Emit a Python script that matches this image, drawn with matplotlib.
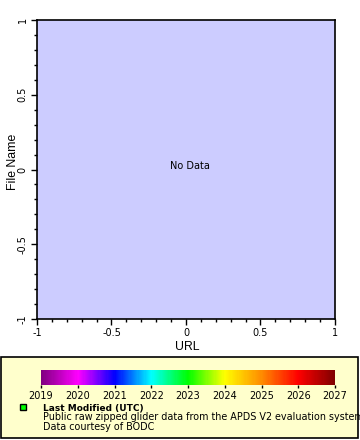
import matplotlib
matplotlib.use("Agg")
import matplotlib.pyplot as plt
import numpy as np
from matplotlib.colors import LinearSegmentedColormap, Normalize
from matplotlib.patches import Rectangle
from matplotlib.ticker import MultipleLocator
import matplotlib.colorbar as mcolorbar

x_label = "URL"
y_label = "File Name"
x_range = [-1, 1]
y_range = [-1, 1]
x_ticks = [-1, -0.5, 0, 0.5, 1]
x_tick_labels = ["-1", "-0.5", "0", "0.5", "1"]
y_ticks = [-1, -0.5, 0, 0.5, 1]
y_tick_labels = ["-1", "-0.5", "0", "0.5", "1"]
cbar_years = [2019, 2020, 2021, 2022, 2023, 2024, 2025, 2026, 2027]
cmap_colors = ["#800080", "#ff00ff", "#0000ff", "#00ffff", "#00ff00",
               "#ffff00", "#ff8c00", "#ff0000", "#800000"]
legend_title = "Last Modified (UTC)"
legend_lines = ["Public raw zipped glider data from the APDS V2 evaluation system",
                "Data courtesy of BODC"]
no_data_text = "No Data"

plt.rcParams['font.family'] = ['DejaVu Sans']

W, H = 360, 440
fig = plt.figure(figsize=(W / 100, H / 100), dpi=100)

def px(x0, y0, x1, y1):
    return [x0 / W, 1 - y1 / H, (x1 - x0) / W, (y1 - y0) / H]

# background axes for legend box and free text
bg = fig.add_axes([0, 0, 1, 1], zorder=0)
bg.set_xlim(0, W)
bg.set_ylim(H, 0)
bg.axis("off")
box = Rectangle((1, 357), 357, 81, facecolor="#ffffcc", edgecolor="black", linewidth=1.2)
bg.add_patch(box)

ax = fig.add_axes(px(37, 20, 335, 319), zorder=1)
ax.set_facecolor("#ccccff")
ax.set_xlim(*x_range)
ax.set_ylim(*y_range)
ax.set_xticks(x_ticks)
ax.set_xticklabels(x_tick_labels)
ax.set_yticks(y_ticks)
ax.set_yticklabels(y_tick_labels, rotation=90, va="center")
ax.xaxis.set_minor_locator(MultipleLocator(0.1))
ax.yaxis.set_minor_locator(MultipleLocator(0.1))
ax.tick_params(which="major", length=4.3, width=1, labelsize=7, pad=2.5)
ax.tick_params(which="minor", length=2.2, width=1)
for s in ax.spines.values():
    s.set_linewidth(1.2)
ax.annotate(no_data_text, xy=(0.5, 0.5), xycoords="axes fraction",
            xytext=(4, 3.5), textcoords="offset pixels",
            ha="center", va="center", fontsize=7)

bg.text(187, 347, x_label, ha="center", va="center", fontsize=8.8, family="Liberation Sans")
bg.text(13, 162, y_label, ha="center", va="center", rotation=90, fontsize=8.8,
        family="Liberation Sans")

cmap = LinearSegmentedColormap.from_list("rb2", cmap_colors)
cax = fig.add_axes(px(41, 370, 335, 385), zorder=2)
cb = mcolorbar.ColorbarBase(cax, cmap=cmap, norm=Normalize(cbar_years[0], cbar_years[-1]),
                            orientation="horizontal")
cb.set_ticks(cbar_years)
cb.set_ticklabels([str(y) for y in cbar_years])
cb.outline.set_visible(False)
cax.tick_params(length=2.5, width=1, labelsize=7, pad=1.5)

bg.plot([22.5], [407.5], marker="s", markersize=3.8, markerfacecolor="#00ff00",
        markeredgecolor="black", markeredgewidth=1)
bg.text(43, 408.5, legend_title, fontsize=6.5, fontweight="bold", va="center")
t1 = bg.text(43, 417.5, legend_lines[0], fontsize=6.95, va="center")
t1.set_clip_path(box)
t2 = bg.text(43, 426.5, legend_lines[1], fontsize=6.95, va="center")
t2.set_clip_path(box)

fig.savefig("out.png", dpi=100)
